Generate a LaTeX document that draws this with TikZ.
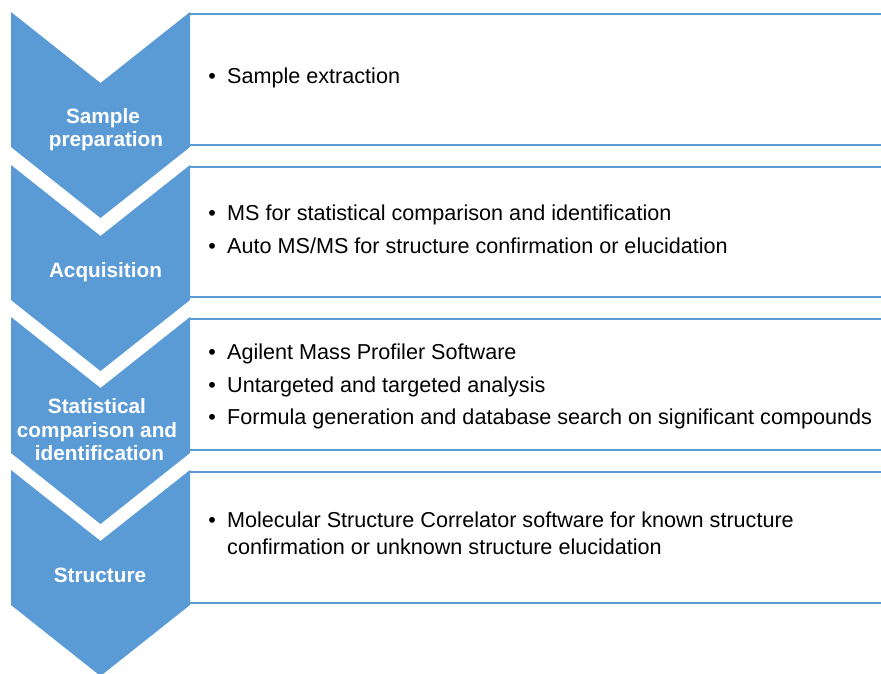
\documentclass[tikz,border=0pt]{standalone}
\usepackage{fontspec}
\setmainfont{Liberation Sans}
\definecolor{stepblue}{RGB}{91,155,213}
\begin{document}
\begin{tikzpicture}[x=1pt,y=-1pt,
  chev/.style={fill=stepblue, draw=none},
  boxline/.style={draw=stepblue, line width=2.2pt},
  lab/.style={text=white, font=\fontsize{20.75}{24}\selectfont\bfseries, anchor=base, inner sep=0pt},
  item/.style={text=black, font=\fontsize{21.6}{26}\selectfont, anchor=base west, inner sep=0pt}]
\useasboundingbox (0,0) rectangle (881,673);
\clip (0,0) rectangle (881,673);
% boxes (top and bottom rules)
\foreach \t/\b in {14/145, 167/297, 319/450, 472/603}{
  \draw[boxline] (190,\t) -- (881,\t);
  \draw[boxline] (190,\b) -- (881,\b);
}
% chevrons
\foreach \t/\b in {12/147, 165/300, 317/453, 470/605}{
  \fill[chev] (11,\t) -- (100.5,{\t+71}) -- (190,\t) -- (190,\b) -- (100.5,{\b+71}) -- (11,\b) -- cycle;
}
% step labels
\node[lab] (s1a) at (103,123) {Sample};
\node[lab] (s1b) at (106,146) {preparation};
\node[lab] (s2) at (105.5,277) {Acquisition};
\node[lab] (s3a) at (97,413) {Statistical};
\node[lab] (s3b) at (97,437) {comparison and};
\node[lab] (s3c) at (99.5,460) {identification};
\node[lab] (s4) at (100,582) {Structure};
% box texts
\node[item] (t1) at (227,83) {\llap{•\hspace{11.2pt}}Sample extraction};
\node[item] (t2a) at (227,220) {\llap{•\hspace{11.2pt}}MS for statistical comparison and identification};
\node[item] (t2b) at (227,253) {\llap{•\hspace{11.2pt}}Auto MS/MS for structure confirmation or elucidation};
\node[item] (t3a) at (227,359) {\llap{•\hspace{11.2pt}}Agilent Mass Profiler Software};
\node[item] (t3b) at (227,392) {\llap{•\hspace{11.2pt}}Untargeted and targeted analysis};
\node[item] (t3c) at (227,424) {\llap{•\hspace{11.2pt}}Formula generation and database search on significant compounds};
\node[item] (t4a) at (227,527) {\llap{•\hspace{11.2pt}}Molecular Structure Correlator software for known structure};
\node[item] (t4b) at (227,554) {confirmation or unknown structure elucidation};
\end{tikzpicture}
\end{document}
